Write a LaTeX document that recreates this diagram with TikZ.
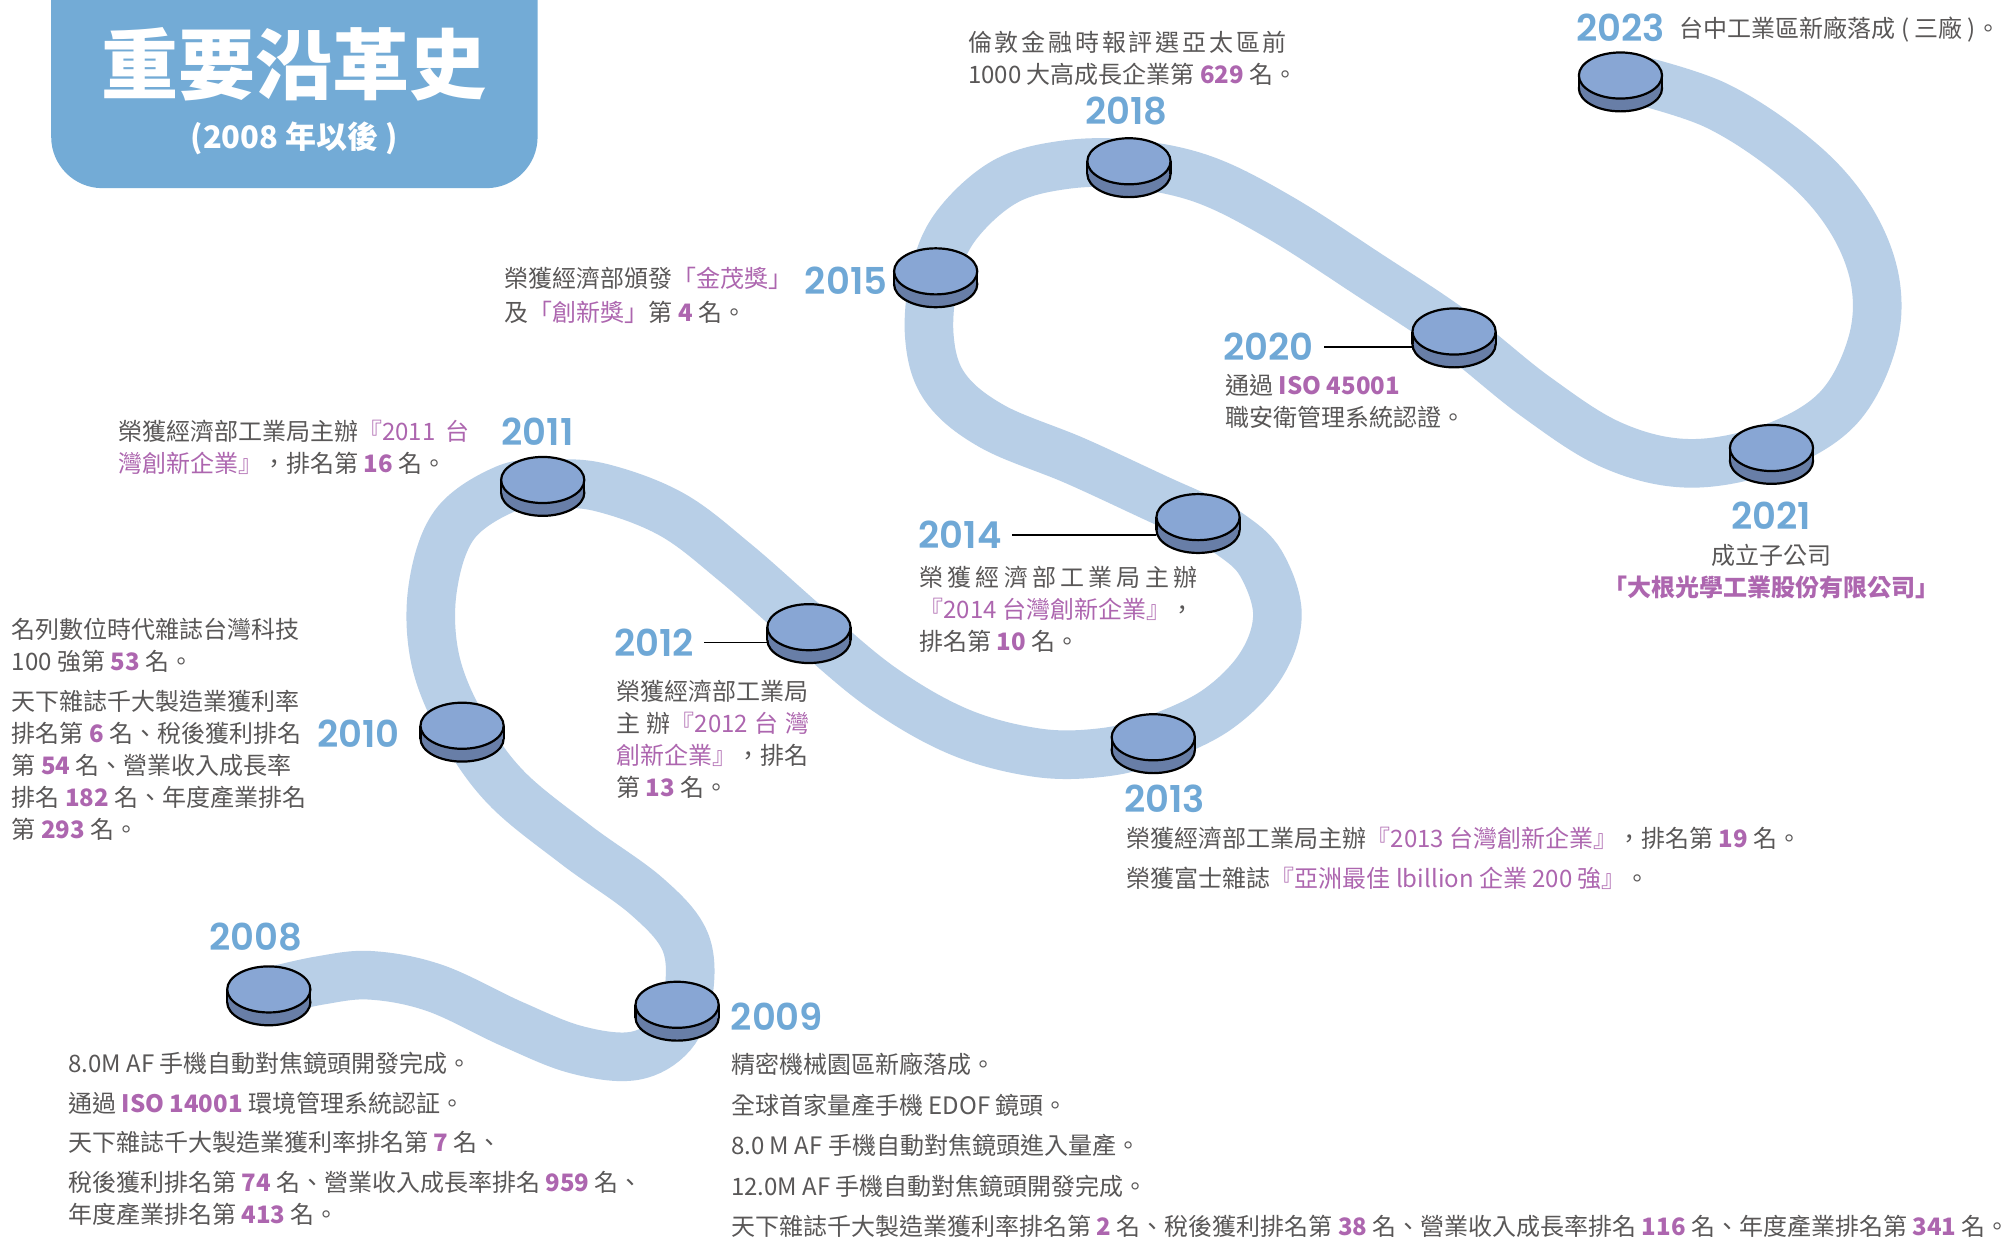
\documentclass[tikz,border=0pt]{standalone}
\usepackage{fontspec}
\setmainfont{Noto Sans CJK TC}
\newfontfamily\yearfont{Poppins SemiBold}
\definecolor{pathblue}{HTML}{B8CFE7}
\definecolor{disctop}{HTML}{88A6D4}
\definecolor{discside}{HTML}{687EA7}
\definecolor{yearblue}{HTML}{6FA8D6}
\definecolor{titleblue}{HTML}{73ABD6}
\definecolor{txtgray}{HTML}{595757}
\definecolor{hlpurple}{HTML}{AD66AF}
\newcommand\pp[1]{\textcolor{hlpurple}{#1}}
\newcommand\pb[1]{\textcolor{hlpurple}{\bfseries #1}}
\newcommand\disc[3]{%
  \filldraw[discside,draw=black,line width=1.1pt] (#2,#3+10) ellipse [x radius=32.5, y radius=18];
  \fill[discside] (#2-32.5,#3) rectangle (#2+32.5,#3+10);
  \draw[black,line width=1.1pt] (#2-32.5,#3) -- (#2-32.5,#3+10) (#2+32.5,#3) -- (#2+32.5,#3+10);
  \filldraw[disctop,draw=black,line width=1.1pt] (#2,#3) ellipse [x radius=32.5, y radius=18];
  \coordinate (#1) at (#2,#3);
  \coordinate (#1w) at (#2-32.5,#3+12);
}
\newcommand\tline[4]{\node[txt] (#1) at (#2,#3) {#4};}
\begin{document}
\begin{tikzpicture}[x=0.64pt,y=-0.64pt,
  txt/.style={anchor=base west,inner sep=0pt,text=txtgray,font=\fontsize{12}{14}\selectfont},
  year/.style={inner sep=0pt,text=yearblue,font=\yearfont\fontsize{18.5}{18.5}\selectfont},
  conn/.style={draw=black,line width=0.9pt}]
\useasboundingbox (0,0) rectangle (1568,966);
\fill[white] (0,0) rectangle (1568,966);
% title box
\fill[titleblue] (40,-40) [rounded corners=25.6pt] -- (40,147) -- (420,147) [sharp corners] -- (420,-40) -- cycle;
\node[inner sep=0pt,text=white,font=\bfseries\fontsize{38.5}{40}\selectfont] (title) at (230,50) {重要沿革史};
\node[inner sep=0pt,text=white,font=\bfseries\fontsize{15.5}{17}\selectfont] (subtitle) at (230,108) {(2008 年以後 )};
% snake path
\draw[pathblue,line width=24.3pt] plot[smooth,tension=0.6] coordinates {
 (210,775) (250,766) (290,762) (340,772) (400,800) (450,820) (495,825) (525,808) (538,775) (535,735)
 (505,700) (450,660) (395,615) (361,567) (340,515) (338,460) (355,410) (395,382) (430,378) (470,381)
 (525,402) (575,440) (632,490) (690,538) (750,572) (810,588) (860,588) (901,578) (950,555) (985,520)
 (998,480) (985,440) (962,418) (936,404) (905,390) (840,360) (775,333) (738,302) (726,262) (731,212)
 (748,175) (785,142) (830,129) (882,128) (940,140) (1000,170) (1070,215) (1136,259) (1200,310)
 (1260,348) (1320,362) (1384,350) (1435,320) (1462,270) (1465,220) (1445,170) (1405,125) (1340,82) (1266,59)};
% discs
\disc{d2008}{210}{773}
\disc{d2009}{529}{785}
\disc{d2010}{361}{567}
\disc{d2011}{424}{375}
\disc{d2012}{632}{490}
\disc{d2013}{901}{576}
\disc{d2014}{936}{404}
\disc{d2015}{731}{212}
\disc{d2018}{882}{126}
\disc{d2020}{1136}{259}
\disc{d2021}{1384}{350}
\disc{d2023}{1266}{59}
% year labels
\node[year] (y2008) at (200,732) {2008};
\node[year] (y2009) at (607,794) {2009};
\node[year] (y2010) at (280,573) {2010};
\node[year] (y2011) at (420,337) {2011};
\node[year] (y2012) at (511,502) {2012};
\node[year] (y2013) at (910,624) {2013};
\node[year] (y2014) at (750,418) {2014};
\node[year] (y2015) at (661,219) {2015};
\node[year] (y2018) at (880,87) {2018};
\node[year] (y2020) at (991,271) {2020};
\node[year] (y2021) at (1384,403) {2021};
\node[year] (y2023) at (1266,22) {2023};
% connectors
\draw[conn] ([xshift=5pt]y2012.east) -- (y2012.east -| d2012w);
\draw[conn] ([xshift=5pt]y2014.east) -- (y2014.east -| d2014w);
\draw[conn] ([xshift=5pt]y2020.east) -- (y2020.east -| d2020w);
% 2008
\tline{t08a}{53}{838}{8.0M AF 手機自動對焦鏡頭開發完成。}
\tline{t08b}{53}{869}{通過 \pb{ISO 14001} 環境管理系統認証。}
\tline{t08c}{53}{900}{天下雜誌千大製造業獲利率排名第 \pb{7} 名、}
\tline{t08d}{53}{931}{稅後獲利排名第 \pb{74} 名、營業收入成長率排名 \pb{959} 名、}
\tline{t08e}{53}{956}{年度產業排名第 \pb{413} 名。}
% 2009
\tline{t09a}{571}{839}{精密機械園區新廠落成。}
\tline{t09b}{571}{871}{全球首家量產手機 EDOF 鏡頭。}
\tline{t09c}{571}{902}{8.0 M AF 手機自動對焦鏡頭進入量產。}
\tline{t09d}{571}{934}{12.0M AF 手機自動對焦鏡頭開發完成。}
\tline{t09e}{571}{965}{天下雜誌千大製造業獲利率排名第 \pb{2} 名、稅後獲利排名第 \pb{38} 名、營業收入成長率排名 \pb{116} 名、年度產業排名第 \pb{341} 名。}
% 2010
\tline{t10a}{9}{499}{名列數位時代雜誌台灣科技}
\tline{t10b}{9}{524}{100 強第 \pb{53} 名。}
\tline{t10c}{9}{555}{天下雜誌千大製造業獲利率}
\tline{t10d}{9}{580}{排名第 \pb{6} 名、稅後獲利排名}
\tline{t10e}{9}{605}{第 \pb{54} 名、營業收入成長率}
\tline{t10f}{9}{630}{排名 \pb{182} 名、年度產業排名}
\tline{t10g}{9}{655}{第 \pb{293} 名。}
% 2011
\tline{t11a}{92}{344}{榮獲經濟部工業局主辦\pp{『2011\hspace{0.4em}台}}
\tline{t11b}{92}{369}{\pp{灣創新企業』}，排名第 \pb{16} 名。}
% 2012
\tline{t12a}{481}{547}{榮獲經濟部工業局}
\tline{t12b}{481}{572}{\makebox[96.6pt][s]{主\hfill 辦\pp{『2012\hfill 台\hfill 灣}}}
\tline{t12c}{481}{597}{\pp{創新企業』}，排名}
\tline{t12d}{481}{622}{第 \pb{13} 名。}
% 2013
\tline{t13a}{880}{662}{榮獲經濟部工業局主辦\pp{『2013 台灣創新企業』}，排名第 \pb{19} 名。}
\tline{t13b}{880}{693}{榮獲富士雜誌\pp{『亞洲最佳 lbillion 企業 200 強』}。}
% 2014
\tline{t14a}{718}{458}{\makebox[138.9pt][s]{榮\hfill 獲\hfill 經\hfill 濟\hfill 部\hfill 工\hfill 業\hfill 局\hfill 主\hfill 辦}}
\tline{t14b}{718}{483}{\pp{『2014 台灣創新企業』}，}
\tline{t14c}{718}{508}{排名第 \pb{10} 名。}
% 2015
\tline{t15a}{394}{225}{榮獲經濟部頒發\pp{「金茂獎」}}
\tline{t15b}{394}{251}{及\pp{「創新獎」}第 \pb{4} 名。}
% 2018
\tline{t18a}{756}{40}{\makebox[159.4pt][s]{倫\hfill 敦\hfill 金\hfill 融\hfill 時\hfill 報\hfill 評\hfill 選\hfill 亞\hfill 太\hfill 區\hfill 前}}
\tline{t18b}{756}{65}{1000 大高成長企業第 \pb{629} 名。}
% 2020
\tline{t20a}{957}{308}{通過 \pb{ISO 45001}}
\tline{t20b}{957}{333}{職安衛管理系統認證。}
% 2021
\node[txt,anchor=base] (t21a) at (1384,441) {成立子公司};
\node[txt,anchor=base] (t21b) at (1384,466) {\pb{「大根光學工業股份有限公司」}};
% 2023
\tline{t23a}{1312}{29}{台中工業區新廠落成 ( 三廠 )。}
\end{tikzpicture}
\end{document}
